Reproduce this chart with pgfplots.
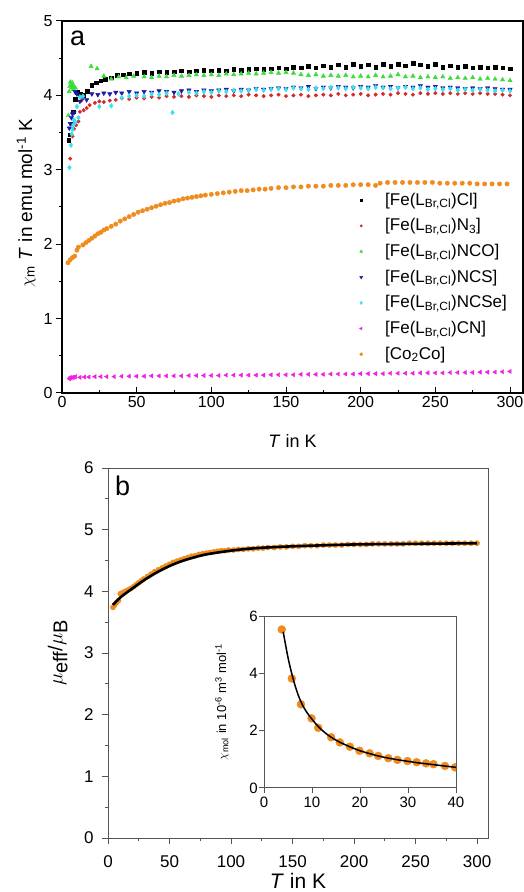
\documentclass[border=0pt]{standalone}
\usepackage{fontspec}
\setmainfont{Liberation Sans}
\usepackage{pgfplots}
\pgfplotsset{compat=1.18}
\definecolor{cblk}{HTML}{000000}
\definecolor{cred}{HTML}{D42A2A}
\definecolor{cgrn}{HTML}{3CDC3C}
\definecolor{cblu}{HTML}{1A1AA6}
\definecolor{ccyn}{HTML}{3CE0F0}
\definecolor{cmag}{HTML}{EE22E0}
\definecolor{corg}{HTML}{F08C1E}
\definecolor{cgray}{HTML}{555555}
\newcommand{\fT}{\fontsize{16}{19}\selectfont}
\newcommand{\fB}{\fontsize{17}{20}\selectfont}
\newcommand{\fI}{\fontsize{15}{18}\selectfont}
\newcommand{\fL}{\fontsize{27}{30}\selectfont}
\begin{document}
\begin{tikzpicture}
\path[use as bounding box] (0,0) rectangle (523pt,892pt);
% ---------------- panel a ----------------
\begin{axis}[at={(62pt,499pt)}, anchor=south west, scale only axis,
  width=461pt, height=372pt, xmin=0, xmax=308.7, ymin=0, ymax=5,
  xtick={0,50,...,300}, ytick={0,1,...,5}, minor x tick num=1, minor y tick num=1,
  xtick align=inside, ytick align=outside, xtick pos=bottom, ytick pos=left,
  major tick length=6pt, minor tick length=3pt,
  axis line style={line width=1.2pt}, every tick/.style={line width=1pt, black},
  /pgf/number format/assume math mode=true,
  tick label style={font=\fT},
  xlabel={\textit{T} in K},
  xlabel style={font=\fontsize{18}{21}\selectfont, at={(axis description cs:0.5,0)}, anchor=base, yshift=-55pt},
  ylabel={$\chi$\textsubscript{m} \textit{T} in emu mol\textsuperscript{-1} K},
  ylabel style={font=\fontsize{19}{22}\selectfont, at={(axis description cs:-0.078,0.51)}, anchor=center, rotate=0},
  legend cell align=left,
  legend image code/.code={\draw[#1, every mark/.append style={scale=0.7}] plot coordinates {(4pt,2pt)}; \path[draw=none,fill=none] (0pt,0pt) -- (28pt,0pt);},
  legend style={draw=none, fill=none, font=\fB, at={(0.6334,0.5430)}, anchor=north west,
    nodes={inner sep=0pt, text height=12pt, text depth=6pt}, row sep=7.67pt},
]
\addplot[only marks, mark=square*, mark size=1.8pt, color=cblk] coordinates {
(4.5,3.40)(5.5,3.47)(6.5,3.62)(7.5,3.78)(9,3.95)(10,4.04)(12,4.02)(14,4.00)(17,4.06)(20,4.14)
(23,4.17)(26,4.20)(29,4.22)(33,4.24)(37,4.27)(41,4.28)(45,4.29)(50,4.30)(55,4.31)(60,4.30)
(65,4.32)(70,4.31)(75,4.32)(80,4.33)(85,4.32)(90,4.33)(95,4.34)(100,4.33)(105,4.34)(110,4.33)
(115,4.35)(120,4.34)(125,4.35)(130,4.36)(135,4.35)(140,4.36)(145,4.37)(150,4.36)(155,4.38)(160,4.37)
(165,4.39)(170,4.37)(175,4.40)(180,4.38)(185,4.41)(190,4.38)(195,4.42)(200,4.39)(205,4.41)(210,4.38)
(215,4.42)(220,4.39)(225,4.42)(230,4.40)(235,4.43)(240,4.41)(245,4.39)(250,4.42)(255,4.38)(260,4.40)
(265,4.38)(270,4.39)(275,4.37)(280,4.38)(285,4.37)(290,4.38)(295,4.37)(300,4.36)};
\addlegendentry{[Fe(L\textsubscript{Br,Cl})Cl]}
\addplot[only marks, mark=*, mark size=1.8pt, color=cred] coordinates {
(5.5,3.15)(7,3.45)(8,3.55)(9.5,3.60)(11,3.65)(12,3.78)(13,3.93)(14.5,3.80)(16.5,3.83)(18.5,3.87)
(22,3.90)(25,3.92)(28,3.91)(32,3.93)(36,3.94)(40,3.96)(45,3.95)(50,3.97)(55,3.96)(60,3.98)
(65,3.97)(70,3.99)(75,3.98)(80,3.99)(85,3.98)(90,4.00)(95,3.99)(100,3.98)(105,4.00)(110,3.99)
(115,4.00)(120,3.99)(125,4.01)(130,4.00)(135,3.99)(140,4.00)(145,4.01)(150,3.99)(155,4.00)(160,4.01)
(165,3.99)(170,4.00)(175,4.01)(180,4.00)(185,4.02)(190,4.00)(195,4.01)(200,4.02)(205,4.00)(210,4.01)
(215,4.02)(220,4.01)(225,4.03)(230,4.02)(235,4.01)(240,4.03)(245,4.02)(250,4.03)(255,4.02)(260,4.03)
(265,4.02)(270,4.03)(275,4.02)(280,4.03)(285,4.02)(290,4.02)(295,4.01)(300,4.00)};
\addlegendentry{[Fe(L\textsubscript{Br,Cl})N\textsubscript{3}]}
\addplot[only marks, mark=triangle*, mark size=2.5pt, color=cgrn] coordinates {
(4.3,3.73)(4.8,4.05)(5.2,4.12)(5.6,4.18)(6,4.15)(6.4,4.10)(6.8,4.17)(7.2,4.13)(7.6,4.08)(8,4.12)
(9,4.10)(19.5,4.39)(23.5,4.36)(28,4.26)(33,4.22)(38,4.25)(43,4.24)(48,4.26)(55,4.25)(60,4.24)
(65,4.26)(70,4.25)(75,4.27)(80,4.26)(85,4.27)(90,4.28)(95,4.27)(100,4.28)(105,4.27)(110,4.29)
(115,4.28)(120,4.29)(125,4.30)(130,4.29)(135,4.30)(140,4.31)(145,4.30)(150,4.31)(155,4.30)(160,4.28)
(165,4.27)(170,4.28)(175,4.26)(180,4.27)(185,4.26)(190,4.27)(195,4.25)(200,4.26)(205,4.25)(210,4.27)
(215,4.25)(220,4.26)(225,4.28)(230,4.25)(235,4.26)(240,4.24)(245,4.25)(250,4.24)(255,4.25)(260,4.23)
(265,4.24)(270,4.23)(275,4.24)(280,4.22)(285,4.23)(290,4.22)(295,4.21)(300,4.20)};
\addlegendentry{[Fe(L\textsubscript{Br,Cl})NCO]}
\addplot[only marks, mark=triangle*, mark size=2.5pt, mark options={rotate=180}, color=cblu] coordinates {
(4.9,3.56)(5.5,3.62)(6.3,3.70)(7,3.75)(8,3.77)(8.7,4.05)(10,4.02)(12,3.92)(14,3.97)(16.5,3.94)
(20,4.02)(24,4.01)(28,4.03)(32,4.02)(36,4.04)(40,4.03)(45,4.05)(50,4.03)(55,4.05)(60,4.04)
(65,4.06)(70,4.05)(75,4.04)(80,4.06)(85,4.07)(90,4.05)(95,4.07)(100,4.06)(105,4.07)(110,4.08)
(115,4.06)(120,4.08)(125,4.07)(130,4.09)(135,4.08)(140,4.09)(145,4.10)(150,4.09)(155,4.11)(160,4.10)
(165,4.12)(170,4.09)(175,4.11)(180,4.10)(185,4.12)(190,4.11)(195,4.10)(200,4.12)(205,4.11)(210,4.13)
(215,4.11)(220,4.12)(225,4.10)(230,4.12)(235,4.11)(240,4.13)(245,4.11)(250,4.12)(255,4.10)(260,4.11)
(265,4.10)(270,4.09)(275,4.10)(280,4.09)(285,4.10)(290,4.09)(295,4.08)(300,4.08)};
\addlegendentry{[Fe(L\textsubscript{Br,Cl})NCS]}
\addplot[only marks, mark=diamond*, mark size=2.4pt, color=ccyn] coordinates {
(5,3.03)(6,3.33)(6.5,3.48)(7,3.54)(7.5,3.60)(8,3.67)(9,3.64)(10,3.85)(11,3.70)(12,3.98)
(14,3.99)(25,3.85)(33,3.86)(40,3.97)(45,3.99)(50,4.00)(55,3.99)(60,4.02)(65,4.01)(70,4.03)
(74,3.77)(78,4.02)(85,4.04)(90,4.03)(95,4.05)(100,4.04)(105,4.06)(110,4.05)(115,4.07)(120,4.06)
(125,4.07)(130,4.08)(135,4.07)(140,4.08)(145,4.09)(150,4.08)(155,4.10)(160,4.09)(165,4.08)(170,4.10)
(175,4.09)(180,4.11)(185,4.10)(190,4.09)(195,4.11)(200,4.10)(205,4.09)(210,4.11)(215,4.10)(220,4.09)
(225,4.10)(230,4.11)(235,4.09)(240,4.10)(245,4.08)(250,4.09)(255,4.08)(260,4.09)(265,4.07)(270,4.08)
(275,4.07)(280,4.08)(285,4.07)(290,4.06)(295,4.07)(300,4.06)};
\addlegendentry{[Fe(L\textsubscript{Br,Cl})NCSe]}
\addplot[only marks, mark=triangle*, mark size=2.4pt, mark options={rotate=90}, color=cmag] coordinates {
(5,0.19)(5.5,0.21)(6,0.20)(7,0.21)(8,0.21)(9,0.22)(12,0.21)(15,0.215)(18,0.215)(22,0.22)
(26,0.22)(30,0.22)(35,0.22)(40,0.225)(45,0.225)(50,0.225)(55,0.225)(60,0.23)(65,0.23)(70,0.23)
(75,0.23)(80,0.23)(85,0.235)(90,0.235)(95,0.235)(100,0.235)(105,0.235)(110,0.24)(115,0.24)(120,0.24)
(125,0.24)(130,0.24)(135,0.24)(140,0.245)(145,0.245)(150,0.245)(155,0.245)(160,0.25)(165,0.25)(170,0.25)
(175,0.25)(180,0.255)(185,0.255)(190,0.255)(195,0.255)(200,0.26)(205,0.26)(210,0.26)(215,0.26)(220,0.265)
(225,0.265)(230,0.265)(235,0.265)(240,0.27)(245,0.27)(250,0.27)(255,0.27)(260,0.275)(265,0.275)(270,0.275)
(275,0.275)(280,0.28)(285,0.28)(290,0.28)(295,0.285)(300,0.29)};
\addlegendentry{[Fe(L\textsubscript{Br,Cl})CN]}
\addplot[only marks, mark=*, mark size=2.2pt, color=corg] coordinates {
(4,1.75)(5.5,1.79)(7,1.82)(8.5,1.84)(10,1.92)(11,1.96)(14,1.99)(16,2.02)(18,2.05)(20,2.08)
(22,2.11)(24,2.14)(26,2.16)(28,2.19)(30,2.21)(33,2.24)(36,2.27)(39,2.31)(42,2.34)(45,2.37)
(48,2.40)(51,2.43)(54,2.45)(57,2.47)(60,2.49)(63,2.51)(66,2.53)(69,2.55)(72,2.56)(75,2.58)
(78,2.59)(81,2.61)(84,2.62)(87,2.63)(90,2.64)(93,2.65)(96,2.66)(100,2.67)(104,2.68)(108,2.69)
(112,2.70)(116,2.71)(120,2.72)(124,2.72)(128,2.73)(132,2.74)(136,2.74)(140,2.75)(145,2.76)(150,2.76)
(155,2.77)(160,2.77)(165,2.78)(170,2.78)(175,2.78)(180,2.79)(185,2.79)(190,2.79)(195,2.80)(200,2.80)
(205,2.80)(210,2.79)(213,2.82)(218,2.83)(223,2.83)(228,2.83)(233,2.83)(238,2.83)(243,2.83)(248,2.83)
(253,2.82)(258,2.82)(263,2.82)(268,2.82)(273,2.82)(278,2.81)(283,2.81)(288,2.81)(293,2.81)(298,2.81)};
\addlegendentry{[Co\textsubscript{2}Co]}
\node[font=\fL, anchor=base west, inner sep=0pt] at (rel axis cs:0.017,0.935) {a};
\end{axis}
% ---------------- panel b ----------------
\begin{axis}[at={(108pt,54pt)}, anchor=south west, scale only axis,
  width=380pt, height=370pt, xmin=0, xmax=308.9, ymin=0, ymax=6,
  clip marker paths=true,
  xtick={0,50,...,300}, ytick={0,1,...,6}, minor x tick num=1, minor y tick num=1,
  tick align=outside, xtick pos=bottom, ytick pos=left,
  major tick length=6pt, minor tick length=3pt,
  axis line style={line width=1pt, cgray}, every tick/.style={line width=1pt, cgray},
  /pgf/number format/assume math mode=true,
  tick label style={font=\fontsize{17}{20}\selectfont},
  xticklabel style={yshift=-8pt}, yticklabel style={xshift=-5pt},
  xlabel={\textit{T} in K},
  xlabel style={font=\fontsize{21}{24}\selectfont, at={(axis description cs:0.5,0)}, anchor=base, yshift=-50pt},
  ylabel={$\mu$\raisebox{-5pt}{eff}/$\mu$\raisebox{-5pt}{B}},
  ylabel style={font=\fontsize{20}{24}\selectfont, at={(axis description cs:-0.132,0.5)}, anchor=center},
]
\addplot[only marks, mark=*, mark size=2.6pt, color=corg] coordinates {
(4,3.74)(5.5,3.78)(7,3.82)(8.5,3.85)(10,3.96)(11,3.97)(13,3.99)(15,4.01)(17,4.03)(19,4.05)
(21,4.08)(23,4.11)(25,4.14)(27,4.17)(29,4.20)(32,4.24)(35,4.28)(38,4.32)(41,4.35)(44,4.38)
(47,4.41)(50,4.44)(53,4.47)(56,4.49)(59,4.51)(62,4.53)(65,4.55)(68,4.57)(71,4.58)(74,4.60)
(77,4.61)(80,4.62)(83,4.63)(86,4.64)(89,4.65)(92,4.66)(95,4.66)(98,4.67)(102,4.67)(106,4.68)
(110,4.68)(114,4.69)(118,4.69)(122,4.70)(126,4.70)(130,4.71)(135,4.71)(140,4.72)(145,4.72)(150,4.73)
(155,4.73)(160,4.74)(165,4.74)(170,4.74)(175,4.75)(180,4.75)(185,4.75)(190,4.75)(195,4.76)(200,4.76)
(205,4.76)(210,4.76)(215,4.77)(220,4.77)(225,4.77)(230,4.77)(235,4.77)(240,4.77)(245,4.78)(250,4.78)
(255,4.78)(260,4.78)(265,4.78)(270,4.78)(275,4.78)(280,4.78)(285,4.78)(290,4.78)(295,4.78)(300,4.78)};
\addplot[black, line width=2.6pt, smooth] coordinates {
(4,3.78)(10,3.90)(20,4.05)(30,4.19)(40,4.31)(50,4.41)(60,4.49)(70,4.55)(80,4.60)(100,4.66)
(120,4.70)(150,4.73)(200,4.76)(250,4.77)(300,4.78)};
\node[font=\fL, anchor=base west, inner sep=0pt] at (rel axis cs:0.018,0.927) {b};
\end{axis}
% ---------------- inset ----------------
\begin{axis}[at={(264pt,104pt)}, anchor=south west, scale only axis,
  width=192pt, height=172pt, xmin=0, xmax=40, ymin=0, ymax=6,
  clip marker paths=true,
  xtick={0,10,20,30,40}, ytick={0,2,4,6},
  tick align=outside, xtick pos=bottom, ytick pos=left,
  major tick length=5pt,
  axis line style={line width=1pt, cgray}, every tick/.style={line width=1pt, cgray},
  /pgf/number format/assume math mode=true,
  tick label style={font=\fI}, yticklabel style={inner sep=1pt},
  ylabel={$\chi$\textsubscript{mol} in 10\textsuperscript{-6} m\textsuperscript{3} mol\textsuperscript{-1}},
  ylabel style={font=\fontsize{13}{15}\selectfont, at={(axis description cs:-0.219,0.5)}, anchor=center},
]
\addplot[only marks, mark=*, mark size=4pt, color=corg] coordinates {
(3.7,5.53)(5.8,3.82)(7.7,2.92)(9.9,2.43)(11.3,2.10)(14.0,1.77)(15.8,1.59)(17.9,1.44)(19.9,1.30)(22,1.21)
(23.8,1.12)(25.9,1.04)(27.8,0.98)(29.9,0.94)(31.8,0.90)(33.75,0.86)(35.3,0.83)(37.7,0.77)(39.8,0.72)};
\addplot[black, line width=1.5pt, smooth] coordinates {
(4,5.45)(5,4.55)(6,3.85)(7,3.30)(8,2.90)(9,2.62)(10,2.40)(11,2.20)(12,2.03)(13,1.89)
(14,1.77)(15,1.67)(16,1.58)(18,1.43)(20,1.30)(22,1.20)(24,1.11)(26,1.04)(28,0.98)(30,0.93)
(32,0.88)(34,0.84)(36,0.80)(38,0.76)(40,0.72)};
\end{axis}
\end{tikzpicture}
\end{document}
